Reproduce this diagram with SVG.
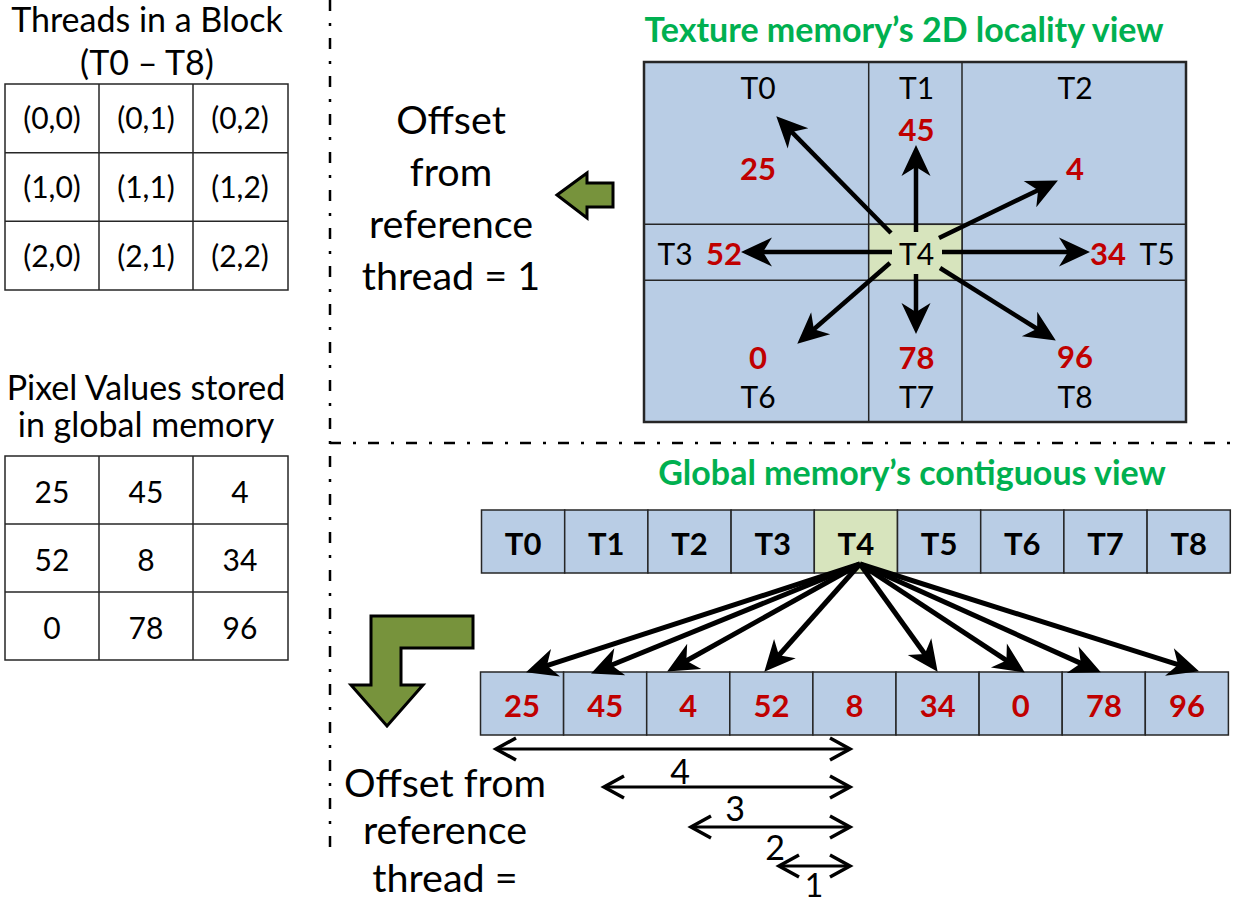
<svg xmlns="http://www.w3.org/2000/svg" width="1233" height="905" viewBox="0 0 1233 905">
<style>
text{font-family:Lato,"Liberation Sans",sans-serif;text-anchor:middle;fill:#000}
.lbl{font-size:34px}
.off{font-size:39.5px}
.cell{font-size:30px}
.tl{font-size:30px}
.red{font-size:31px;font-weight:bold;fill:#C00000}
.bt{font-size:31px;font-weight:bold}
.gt{font-size:34px;font-weight:bold;fill:#00B050}
.dim{font-size:34px}
.tb{fill:#fff;stroke:#262626;stroke-width:1.5}
.bl{fill:#B9CDE5;stroke:#262626;stroke-width:1.5}
.gr{fill:#D7E4BD;stroke:#262626;stroke-width:1.5}
.sep{stroke:#000;stroke-width:2.5;stroke-dasharray:11 12 3 12;fill:none}
.ar{stroke:#000;stroke-width:4.5;fill:none;marker-end:url(#stealth)}
.fan{stroke:#000;stroke-width:5;fill:none;marker-end:url(#stealth)}
.dl{stroke:#000;stroke-width:3;fill:none;marker-start:url(#vh);marker-end:url(#vh)}
.big{fill:#77933C;stroke:#000;stroke-width:3;stroke-linejoin:miter}
</style>
<defs>
<marker id="stealth" markerUnits="userSpaceOnUse" markerWidth="32" markerHeight="32" refX="14" refY="15" orient="auto" overflow="visible">
<path d="M31,15 L0,0.5 L9,15 L0,29.5 Z" fill="#000"/>
</marker>
<marker id="vh" markerUnits="userSpaceOnUse" markerWidth="24" markerHeight="24" refX="20" refY="10" orient="auto-start-reverse" overflow="visible">
<path d="M0,-1 L20,10 L0,21" fill="none" stroke="#000" stroke-width="3.5"/>
</marker>
</defs>

<g id="separators">
<line class="sep" x1="330" y1="0" x2="330" y2="855"/>
<line class="sep" x1="330" y1="443" x2="1233" y2="443"/>
</g>

<g id="threads-block">
<text class="lbl" x="147" y="32">Threads in a Block</text>
<text class="lbl" x="147" y="75">(T0 – T8)</text>
<rect class="tb" x="5" y="84" width="283" height="206"/>
<line class="tb" x1="99" y1="84" x2="99" y2="290"/>
<line class="tb" x1="193" y1="84" x2="193" y2="290"/>
<line class="tb" x1="5" y1="152.7" x2="288" y2="152.7"/>
<line class="tb" x1="5" y1="221.3" x2="288" y2="221.3"/>
<text class="cell" x="52" y="129">(0,0)</text><text class="cell" x="146" y="129">(0,1)</text><text class="cell" x="240" y="129">(0,2)</text>
<text class="cell" x="52" y="198">(1,0)</text><text class="cell" x="146" y="198">(1,1)</text><text class="cell" x="240" y="198">(1,2)</text>
<text class="cell" x="52" y="267">(2,0)</text><text class="cell" x="146" y="267">(2,1)</text><text class="cell" x="240" y="267">(2,2)</text>
</g>

<g id="pixel-values">
<text class="lbl" x="146" y="400">Pixel Values stored</text>
<text class="lbl" x="146" y="437">in global memory</text>
<rect class="tb" x="5" y="456" width="283" height="204"/>
<line class="tb" x1="99" y1="456" x2="99" y2="660"/>
<line class="tb" x1="193" y1="456" x2="193" y2="660"/>
<line class="tb" x1="5" y1="524" x2="288" y2="524"/>
<line class="tb" x1="5" y1="592" x2="288" y2="592"/>
<text class="cell" x="52" y="503">25</text><text class="cell" x="146" y="503">45</text><text class="cell" x="240" y="503">4</text>
<text class="cell" x="52" y="571">52</text><text class="cell" x="146" y="571">8</text><text class="cell" x="240" y="571">34</text>
<text class="cell" x="52" y="639">0</text><text class="cell" x="146" y="639">78</text><text class="cell" x="240" y="639">96</text>
</g>

<g id="offset-top">
<text class="off" x="451" y="134">Offset</text>
<text class="off" x="451" y="186">from</text>
<text class="off" x="451" y="238">reference</text>
<text class="off" x="451" y="290">thread = 1</text>
</g>

<g id="arrow-left">
<polygon class="big" points="557,195 587,173 587,183 613,183 613,207 587,207 587,218"/>
</g>

<g id="texture-view">
<text class="gt" x="904" y="42">Texture memory’s 2D locality view</text>
<rect class="bl" x="644" y="62" width="542" height="360" style="stroke-width:2.5"/>
<line class="bl" x1="868.7" y1="62" x2="868.7" y2="422"/>
<line class="bl" x1="962" y1="62" x2="962" y2="422"/>
<line class="bl" x1="644" y1="224.3" x2="1186" y2="224.3"/>
<line class="bl" x1="644" y1="280.3" x2="1186" y2="280.3"/>
<rect class="gr" x="868.7" y="224.3" width="93.3" height="56"/>
<text class="tl" x="758" y="99">T0</text>
<text class="tl" x="916.5" y="99">T1</text>
<text class="tl" x="1075" y="99">T2</text>
<text class="red" x="758" y="180">25</text>
<text class="red" x="916.5" y="141">45</text>
<text class="red" x="1075" y="180">4</text>
<text class="tl" x="675" y="265">T3</text>
<text class="red" x="724" y="265">52</text>
<text class="tl" x="916.5" y="265">T4</text>
<text class="red" x="1108" y="265">34</text>
<text class="tl" x="1157" y="265">T5</text>
<text class="red" x="758" y="369">0</text>
<text class="red" x="916.5" y="369">78</text>
<text class="red" x="1075" y="368">96</text>
<text class="tl" x="758" y="408">T6</text>
<text class="tl" x="916.5" y="408">T7</text>
<text class="tl" x="1075" y="408">T8</text>
</g>

<g id="global-view">
<text class="gt" x="912" y="485">Global memory’s contiguous view</text>
<g id="thread-row">
<rect class="bl" x="481.5" y="510" width="83.2" height="63"/>
<rect class="bl" x="564.7" y="510" width="83.2" height="63"/>
<rect class="bl" x="647.9" y="510" width="83.2" height="63"/>
<rect class="bl" x="731.1" y="510" width="83.2" height="63"/>
<rect class="gr" x="814.3" y="510" width="83.2" height="63"/>
<rect class="bl" x="897.5" y="510" width="83.2" height="63"/>
<rect class="bl" x="980.7" y="510" width="83.2" height="63"/>
<rect class="bl" x="1063.9" y="510" width="83.2" height="63"/>
<rect class="bl" x="1147.1" y="510" width="83.2" height="63"/>
<text class="bt" x="523.1" y="555">T0</text>
<text class="bt" x="606.3" y="555">T1</text>
<text class="bt" x="689.5" y="555">T2</text>
<text class="bt" x="772.7" y="555">T3</text>
<text class="bt" x="855.9" y="555">T4</text>
<text class="bt" x="939.1" y="555">T5</text>
<text class="bt" x="1022.3" y="555">T6</text>
<text class="bt" x="1105.5" y="555">T7</text>
<text class="bt" x="1188.7" y="555">T8</text>
</g>
<g id="value-row">
<rect class="bl" x="480.5" y="672" width="83.1" height="63"/>
<rect class="bl" x="563.6" y="672" width="83.1" height="63"/>
<rect class="bl" x="646.7" y="672" width="83.1" height="63"/>
<rect class="bl" x="729.8" y="672" width="83.1" height="63"/>
<rect class="bl" x="812.9" y="672" width="83.1" height="63"/>
<rect class="bl" x="896" y="672" width="83.1" height="63"/>
<rect class="bl" x="979.1" y="672" width="83.1" height="63"/>
<rect class="bl" x="1062.2" y="672" width="83.1" height="63"/>
<rect class="bl" x="1145.3" y="672" width="83.1" height="63"/>
<text class="red" x="522" y="717">25</text>
<text class="red" x="605.2" y="717">45</text>
<text class="red" x="688.3" y="717">4</text>
<text class="red" x="771.4" y="717">52</text>
<text class="red" x="854.6" y="717">8</text>
<text class="red" x="937.7" y="717">34</text>
<text class="red" x="1020.8" y="717">0</text>
<text class="red" x="1103.9" y="717">78</text>
<text class="red" x="1187" y="717">96</text>
</g>
</g>

<g id="arrow-down">
<polygon class="big" points="371,616 473,616 473,648 401,648 401,685 423,685 387,726 351,685 371,685"/>
</g>

<g id="offset-bottom">
<text class="off" x="445" y="797">Offset from</text>
<text class="off" x="445" y="844">reference</text>
<text class="off" x="445" y="892">thread =</text>
</g>

<g id="connectors">
<g id="texture-arrows">
<line class="ar" x1="891" y1="233" x2="788.2" y2="128.4"/>
<line class="ar" x1="916" y1="232" x2="916" y2="162"/>
<line class="ar" x1="939" y1="238" x2="1042.6" y2="188"/>
<line class="ar" x1="892" y1="252" x2="758" y2="252"/>
<line class="ar" x1="942" y1="252" x2="1073" y2="252"/>
<line class="ar" x1="890" y1="263" x2="810.1" y2="332.5"/>
<line class="ar" x1="916" y1="274" x2="916" y2="317"/>
<line class="ar" x1="940" y1="268" x2="1041.4" y2="331.5"/>
</g>
<g id="global-arrows">
<line class="fan" x1="860" y1="564" x2="542.2" y2="667.1"/>
<line class="fan" x1="860" y1="564" x2="606.8" y2="667"/>
<line class="fan" x1="860" y1="564" x2="682" y2="663.2"/>
<line class="fan" x1="860" y1="564" x2="775.6" y2="659"/>
<line class="fan" x1="860" y1="564" x2="927.7" y2="658"/>
<line class="fan" x1="860" y1="564" x2="1010.6" y2="663.2"/>
<line class="fan" x1="860" y1="564" x2="1085.4" y2="665.4"/>
<line class="fan" x1="860" y1="564" x2="1182.8" y2="666.2"/>
</g>
<g id="offset-arrows">
<line class="dl" x1="496" y1="749" x2="850" y2="749"/>
<line class="dl" x1="604" y1="787" x2="850" y2="787"/>
<line class="dl" x1="691" y1="827" x2="850" y2="827"/>
<line class="dl" x1="779" y1="866" x2="850" y2="866"/>
<text class="dim" x="680" y="784">4</text>
<text class="dim" x="735" y="821">3</text>
<text class="dim" x="775" y="860">2</text>
<text class="dim" x="814" y="897" style="font-size:32px">1</text>
</g>
</g>
</svg>
